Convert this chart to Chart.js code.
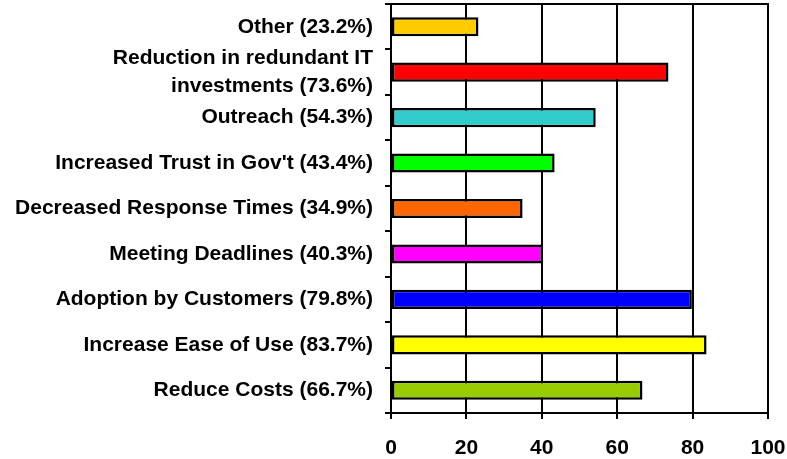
<!DOCTYPE html>
<html>
<head>
  <meta charset="utf-8" />
  <title>Benefits</title>
  <script src="https://cdn.jsdelivr.net/npm/chart.js@4.4.1/dist/chart.umd.min.js"></script>
  <style>
    html, body { margin: 0; padding: 0; background: #fff; }
    #wrap { width: 787px; height: 459px; }
  </style>
</head>
<body>
  <div id="wrap"><canvas id="benefitChart"></canvas></div>

  <script>
    // categories, top to bottom
    const categories = [
      'Other (23.2%)',
      ['Reduction in redundant IT', 'investments (73.6%)'],
      'Outreach (54.3%)',
      "Increased Trust in Gov't (43.4%)",
      'Decreased Response Times (34.9%)',
      'Meeting Deadlines (40.3%)',
      'Adoption by Customers (79.8%)',
      'Increase Ease of Use (83.7%)',
      'Reduce Costs (66.7%)'
    ];
    const values = [23.2, 73.6, 54.3, 43.4, 34.9, 40.3, 79.8, 83.7, 66.7];
    const barColors = ['#FFCC00', '#FF0000', '#33CCCC', '#00FF00', '#FF6600',
                       '#FF00FF', '#0000FF', '#FFFF00', '#99CC00'];
    const xTicks = [0, 20, 40, 60, 80, 100];

    const font = { family: 'Liberation Sans, Arial, sans-serif', size: 21, weight: 'bold', lineHeight: 1.29 };

    // top frame line of the plot area
    const topBorder = {
      id: 'topBorder',
      afterDraw(chart) {
        const { ctx, chartArea: a } = chart;
        ctx.save();
        ctx.strokeStyle = '#000';
        ctx.lineWidth = 2;
        ctx.beginPath();
        ctx.moveTo(a.left - 1, a.top);
        ctx.lineTo(a.right + 1, a.top);
        ctx.stroke();
        ctx.restore();
      }
    };

    new Chart(document.getElementById('benefitChart'), {
      type: 'bar',
      data: {
        labels: categories,
        datasets: [{
          data: values,
          backgroundColor: barColors,
          borderColor: '#000',
          borderWidth: 2.5,
          borderSkipped: false,
          categoryPercentage: 1.0,
          barPercentage: 0.42
        }]
      },
      options: {
        indexAxis: 'y',
        responsive: true,
        maintainAspectRatio: false,
        animation: false,
        layout: { padding: { top: 4, right: 19, left: 0, bottom: 0 } },
        plugins: { legend: { display: false }, tooltip: { enabled: false } },
        scales: {
          x: {
            min: 0,
            max: 100,
            afterBuildTicks: s => { s.ticks = xTicks.map(v => ({ value: v })); },
            afterFit: s => { s.height = 46; s.paddingLeft = 0; s.paddingRight = 0; },
            grid: { color: '#000', lineWidth: 2, tickLength: 6 },
            border: { color: '#000', width: 2 },
            ticks: { color: '#000', font: font, padding: 16, autoSkip: false, maxRotation: 0 }
          },
          y: {
            afterFit: s => { s.width = 391; s.paddingTop = 0; s.paddingBottom = 0; },
            grid: { drawOnChartArea: false, color: '#000', lineWidth: 2, tickLength: 6, offset: true },
            border: { color: '#000', width: 2 },
            ticks: { color: '#000', font: font, padding: 12, autoSkip: false }
          }
        }
      },
      plugins: [topBorder]
    });
  </script>
</body>
</html>
